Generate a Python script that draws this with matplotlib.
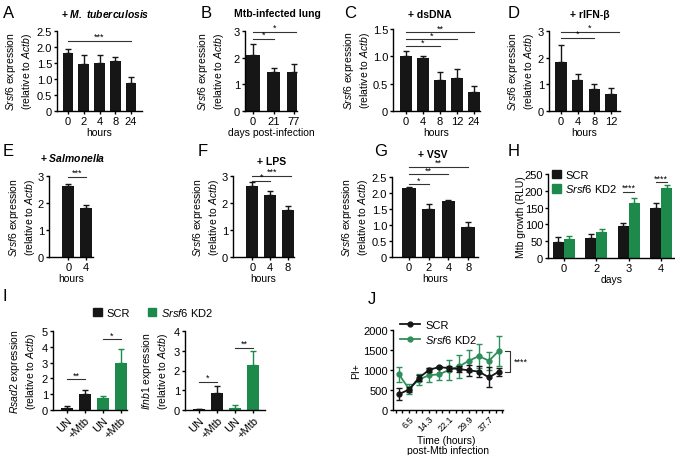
import matplotlib

matplotlib.use("Agg")
import matplotlib.pyplot as plt
import numpy as np
from matplotlib.patches import Patch
from matplotlib.lines import Line2D

W, H = 675, 456
BLACK = "#161616"
GREEN = "#1d8a4b"
J_GREEN = "#2e8f5a"

# --- data ------------------------------------------------------------------
A_CATS = ["0", "2", "4", "8", "24"]
A_MEAN = [1.82, 1.47, 1.49, 1.55, 0.88]
A_ERR = [0.11, 0.28, 0.26, 0.13, 0.17]

B_CATS = ["0", "21", "77"]
B_MEAN = [2.10, 1.47, 1.45]
B_ERR = [0.43, 0.15, 0.32]

C_CATS = ["0", "4", "8", "12", "24"]
C_MEAN = [1.00, 0.965, 0.57, 0.60, 0.35]
C_ERR = [0.09, 0.035, 0.14, 0.17, 0.11]

D_CATS = ["0", "4", "8", "12"]
D_MEAN = [1.85, 1.17, 0.82, 0.65]
D_ERR = [0.62, 0.20, 0.18, 0.22]

E_CATS = ["0", "4"]
E_MEAN = [2.64, 1.82]
E_ERR = [0.08, 0.10]

F_CATS = ["0", "4", "8"]
F_MEAN = [2.63, 2.30, 1.74]
F_ERR = [0.14, 0.15, 0.15]

G_CATS = ["0", "2", "4", "8"]
G_MEAN = [2.15, 1.49, 1.75, 0.95]
G_ERR = [0.03, 0.18, 0.03, 0.14]

H_DAYS = ["0", "2", "3", "4"]
H_SCR = [49, 59, 94, 149]
H_SCR_ERR = [13, 11, 10, 14]
H_KD2 = [57, 77, 164, 207]
H_KD2_ERR = [8, 10, 16, 10]

I_CATS = ["UN", "+Mtb", "UN", "+Mtb"]
I_RSAD2 = [0.15, 1.02, 0.74, 3.00]
I_RSAD2_ERR = [0.08, 0.22, 0.14, 0.83]
I_IFNB1 = [0.03, 0.88, 0.11, 2.28]
I_IFNB1_ERR = [0.03, 0.32, 0.12, 0.70]

J_TIME = [2.6, 6.5, 10.4, 14.3, 18.2, 22.1, 26.0, 29.9, 33.8, 37.7, 41.6]
J_SCR = [398, 510, 805, 1000, 1075, 1045, 1025, 990, 960, 815, 960]
J_SCR_ERR = [140, 70, 70, 40, 30, 60, 70, 130, 140, 250, 100]
J_KD2 = [890, 525, 760, 870, 890, 1000, 1090, 1230, 1350, 1230, 1480]
J_KD2_ERR = [190, 130, 140, 180, 150, 250, 290, 280, 310, 230, 370]
J_TICKS = [1.3 + 2.6 * k for k in range(17)]
J_LABELED = [6.5, 14.3, 22.1, 29.9, 37.7]

plt.rcParams["font.family"] = ["Liberation Sans", "DejaVu Sans"]
plt.rcParams["mathtext.fontset"] = "custom"
plt.rcParams["mathtext.rm"] = "Liberation Sans"
plt.rcParams["mathtext.it"] = "Liberation Sans:italic"
plt.rcParams["mathtext.bf"] = "Liberation Sans:bold"
plt.rcParams["mathtext.bfit"] = "Liberation Sans:bold:italic"

FS = 7.5
TFS = 8
SRSF6_LABEL = "$\\mathit{Srsf6}$ expression\n(relative to $\\mathit{Actb}$)"


def px(x, y):
    return x / W, 1 - y / H


def add_ax(fig, left, right, top, bottom):
    ax = fig.add_axes([left / W, 1 - bottom / H, (right - left) / W, (bottom - top) / H])
    for side in ("top", "right"):
        ax.spines[side].set_visible(False)
    for side in ("left", "bottom"):
        ax.spines[side].set_linewidth(1.0)
    ax.tick_params(direction="out", length=2.5, width=1.0, labelsize=TFS, pad=1)
    return ax


def ylabel_at(ax, text, x_px):
    # x_px: pixel column where the label block ends on its right side
    pos = ax.get_position()
    ax.set_ylabel(text, fontsize=FS)
    ax.yaxis.set_label_coords((x_px / W - pos.x0) / pos.width, 0.5)


def fmt_ticks(ax, ticks, dec=0):
    ax.set_yticks(ticks)
    ax.set_yticklabels(["0" if t == 0 else f"{t:.{dec}f}" for t in ticks])


def bar_panel(ax, cats, means, errs, xlim, ylim, yticks, dec=0, width=0.68):
    x = np.arange(len(cats))
    ax.bar(x, means, width, color=BLACK, zorder=2)
    ax.errorbar(x, means, yerr=[np.zeros(len(x)), errs], fmt="none", ecolor=BLACK,
                elinewidth=1, capsize=2.5, capthick=1, zorder=1)
    ax.set_xticks(x)
    ax.set_xticklabels(cats)
    ax.set_xlim(*xlim)
    ax.set_ylim(*ylim)
    fmt_ticks(ax, yticks, dec)


def sig(ax, x0, x1, y, stars):
    ax.plot([x0, x1], [y, y], color="#333333", lw=0.8, clip_on=False)
    ax.text((x0 + x1) / 2, y, stars, ha="center", va="bottom", fontsize=6.5, clip_on=False)


def letter(fig, s, x, y):
    fig.text(*px(x, y), s, fontsize=12, ha="left", va="center")


def title(fig, s, x, y):
    fig.text(*px(x, y), s, fontsize=FS, fontweight="bold", ha="center", va="center")


fig = plt.figure(figsize=(W / 100, H / 100), dpi=100)

# A
ax = add_ax(fig, 57, 142, 32, 112)
bar_panel(ax, A_CATS, A_MEAN, A_ERR, (-0.7, 4.7), (0, 2.5), [0, 0.5, 1.0, 1.5, 2.0, 2.5], 1)
sig(ax, 0, 4, 2.2, "***")
ylabel_at(ax, SRSF6_LABEL, 34)
ax.set_xlabel("hours", fontsize=FS, labelpad=1)
letter(fig, "A", 3, 14)
title(fig, "+ $\\mathbfit{M.\\ tuberculosis}$", 105, 14)

# B
ax = add_ax(fig, 245, 297, 32, 112)
bar_panel(ax, B_CATS, B_MEAN, B_ERR, (-0.4, 2.15), (0, 3), [0, 1, 2, 3])
sig(ax, 0, 1, 2.71, "*")
sig(ax, 0, 2.1, 2.96, "*")
ylabel_at(ax, SRSF6_LABEL, 226)
ax.set_xlabel("days post-infection", fontsize=FS, labelpad=1)
letter(fig, "B", 201, 14)
title(fig, "Mtb-infected lung", 277, 14)

# C
ax = add_ax(fig, 393, 480, 30, 112)
bar_panel(ax, C_CATS, C_MEAN, C_ERR, (-0.76, 4.35), (0, 1.5), [0, 0.5, 1.0, 1.5], 1)
sig(ax, 0, 2, 1.18, "*")
sig(ax, 0, 3, 1.31, "*")
sig(ax, 0, 4, 1.44, "**")
ylabel_at(ax, SRSF6_LABEL, 372)
ax.set_xlabel("hours", fontsize=FS, labelpad=1)
letter(fig, "C", 344, 14)
title(fig, "+ dsDNA", 430, 15)

# D
ax = add_ax(fig, 549, 620, 32, 112)
bar_panel(ax, D_CATS, D_MEAN, D_ERR, (-0.72, 3.55), (0, 3), [0, 1, 2, 3])
sig(ax, 0, 2, 2.74, "*")
sig(ax, 0, 3.5, 2.97, "*")
ylabel_at(ax, SRSF6_LABEL, 536)
ax.set_xlabel("hours", fontsize=FS, labelpad=1)
letter(fig, "D", 508, 14)
title(fig, "+ rIFN-β", 590, 15)

# E
ax = add_ax(fig, 49, 93, 177, 258)
bar_panel(ax, E_CATS, E_MEAN, E_ERR, (-1.1, 1.4), (0, 3), [0, 1, 2, 3])
sig(ax, 0, 1, 2.98, "***")
ylabel_at(ax, SRSF6_LABEL, 37)
ax.set_xlabel("hours", fontsize=FS, labelpad=1)
letter(fig, "E", 3, 152)
title(fig, "+ $\\mathbfit{Salmonella}$", 73, 158)

# F
ax = add_ax(fig, 233, 294, 177, 258)
bar_panel(ax, F_CATS, F_MEAN, F_ERR, (-1.1, 2.35), (0, 3), [0, 1, 2, 3])
sig(ax, 0, 1, 2.83, "*")
sig(ax, 0, 2.2, 3.01, "***")
ylabel_at(ax, SRSF6_LABEL, 221)
ax.set_xlabel("hours", fontsize=FS, labelpad=1)
letter(fig, "F", 198, 152)
title(fig, "+ LPS", 272, 162)

# G
ax = add_ax(fig, 392, 478, 178, 258)
bar_panel(ax, G_CATS, G_MEAN, G_ERR, (-0.86, 3.5), (0, 2.5), [0, 0.5, 1.0, 1.5, 2.0, 2.5], 1)
sig(ax, 0, 1, 2.27, "*")
sig(ax, 0, 2, 2.58, "**")
sig(ax, 0, 3, 2.82, "**")
ylabel_at(ax, SRSF6_LABEL, 370)
ax.set_xlabel("hours", fontsize=FS, labelpad=1)
letter(fig, "G", 374, 152)
title(fig, "+ VSV", 433, 155)

# H
ax = add_ax(fig, 548, 675, 175, 259)
hx = np.arange(len(H_DAYS))
bw = 0.34
ax.bar(hx - bw / 2, H_SCR, bw, color=BLACK, zorder=2)
ax.bar(hx + bw / 2, H_KD2, bw, color=GREEN, zorder=2)
ax.errorbar(hx - bw / 2, H_SCR, yerr=[np.zeros(4), H_SCR_ERR], fmt="none", ecolor=BLACK,
            elinewidth=1, capsize=2.5, capthick=1, zorder=1)
ax.errorbar(hx + bw / 2, H_KD2, yerr=[np.zeros(4), H_KD2_ERR], fmt="none", ecolor=GREEN,
            elinewidth=1, capsize=2.5, capthick=1, zorder=1)
ax.set_xticks(hx)
ax.set_xticklabels(H_DAYS)
ax.set_xlim(-0.48, 3.43)
ax.set_ylim(0, 250)
fmt_ticks(ax, [0, 50, 100, 150, 200, 250])
sig(ax, 2 - bw / 2, 2 + bw / 2, 197, "****")
sig(ax, 3 - bw / 2, 3 + bw / 2, 225, "****")
ylabel_at(ax, "Mtb growth (RLU)", 526)
ax.set_xlabel("days", fontsize=FS, labelpad=1)
ax.legend(handles=[Patch(color=BLACK, label="SCR"),
                   Patch(color=GREEN, label="$\\mathit{Srsf6}$ KD2")],
          loc="upper left", bbox_to_anchor=(0.03, 1.05), frameon=False, fontsize=8,
          handlelength=0.8, handleheight=0.8, handletextpad=0.4, labelspacing=0.2,
          borderaxespad=0, borderpad=0)
letter(fig, "H", 508, 152)

# I
for left, right, vals, errs, ymax, gene, pairs, lab_x in [
    (53, 127, I_RSAD2, I_RSAD2_ERR, 5, "Rsad2", [(1.94, "**"), (4.47, "*")], 38),
    (185, 265, I_IFNB1, I_IFNB1_ERR, 4, "Ifnb1", [(1.42, "*"), (3.16, "**")], 170),
]:
    ax = add_ax(fig, left, right, 332, 411)
    ix = np.arange(4)
    cols = [BLACK, BLACK, GREEN, GREEN]
    ax.bar(ix, vals, 0.65, color=cols, zorder=2)
    for k in range(4):
        ax.errorbar(ix[k], vals[k], yerr=[[0], [errs[k]]], fmt="none", ecolor=cols[k],
                    elinewidth=1, capsize=2.5, capthick=1, zorder=1)
    ax.set_xticks(ix)
    ax.set_xticklabels(I_CATS, rotation=45, ha="right", rotation_mode="anchor")
    ax.set_xlim(-0.78, 3.35 if ymax == 5 else 3.67)
    ax.set_ylim(0, ymax)
    fmt_ticks(ax, list(range(ymax + 1)))
    sig(ax, 0, 1, pairs[0][0], pairs[0][1])
    sig(ax, 2, 3, pairs[1][0], pairs[1][1])
    ylabel_at(ax, f"$\\mathit{{{gene}}}$ expression\n(relative to $\\mathit{{Actb}}$)", lab_x)
letter(fig, "I", 2, 297)
fig.legend(handles=[Patch(color=BLACK, label="SCR"),
                    Patch(color=GREEN, label="$\\mathit{Srsf6}$ KD2")],
           loc="center", bbox_to_anchor=px(153, 313), ncol=2, frameon=False,
           fontsize=8, handlelength=0.8, handleheight=0.8, handletextpad=0.4,
           columnspacing=1.6)

# J
ax = add_ax(fig, 393, 503, 331, 411)
ax.errorbar(J_TIME, J_SCR, yerr=J_SCR_ERR, color=BLACK, marker="o", markersize=3.5,
            lw=1.3, elinewidth=1, capsize=2, capthick=1, zorder=3)
ax.errorbar(J_TIME, J_KD2, yerr=J_KD2_ERR, color=J_GREEN, marker="o", markersize=3.5,
            lw=1.3, elinewidth=1, capsize=2, capthick=1, zorder=2)
ax.set_xlim(0.26, 43.2)
ax.set_ylim(0, 2000)
ax.set_yticks([0, 500, 1000, 1500, 2000])
ax.set_xticks(J_TICKS)
ax.set_xticklabels([f"{t:.1f}" if any(abs(t - v) < 1e-6 for v in J_LABELED) else "" for t in J_TICKS],
                   rotation=45, ha="right", rotation_mode="anchor")
ax.tick_params(axis="x", pad=0.5, labelsize=6.5)
ylabel_at(ax, "PI+", 361)
fig.text(*px(446, 441), "Time (hours)", fontsize=FS, ha="center", va="center")
fig.text(*px(448, 451), "post-Mtb infection", fontsize=FS, ha="center", va="center")
h = [Line2D([], [], color=BLACK, marker="o", markersize=3.5, lw=1.3),
     Line2D([], [], color=J_GREEN, marker="o", markersize=3.5, lw=1.3)]
ax.legend(h, ["SCR", "$\\mathit{Srsf6}$ KD2"], loc="upper left",
          bbox_to_anchor=(0.06, 1.13), frameon=False, fontsize=8, handlelength=1.8,
          handletextpad=0.5, labelspacing=0.3, borderaxespad=0, borderpad=0)
xb0, xb1 = 44.0, 45.9
ax.plot([xb0, xb1, xb1, xb0], [J_KD2[-1], J_KD2[-1], J_SCR[-1], J_SCR[-1]],
        color="#333333", lw=0.8, clip_on=False)
ax.text(47.5, (J_KD2[-1] + J_SCR[-1]) / 2, "****", fontsize=6.5, va="center", ha="left")
letter(fig, "J", 368, 300)

fig.savefig("out.png", dpi=100)
